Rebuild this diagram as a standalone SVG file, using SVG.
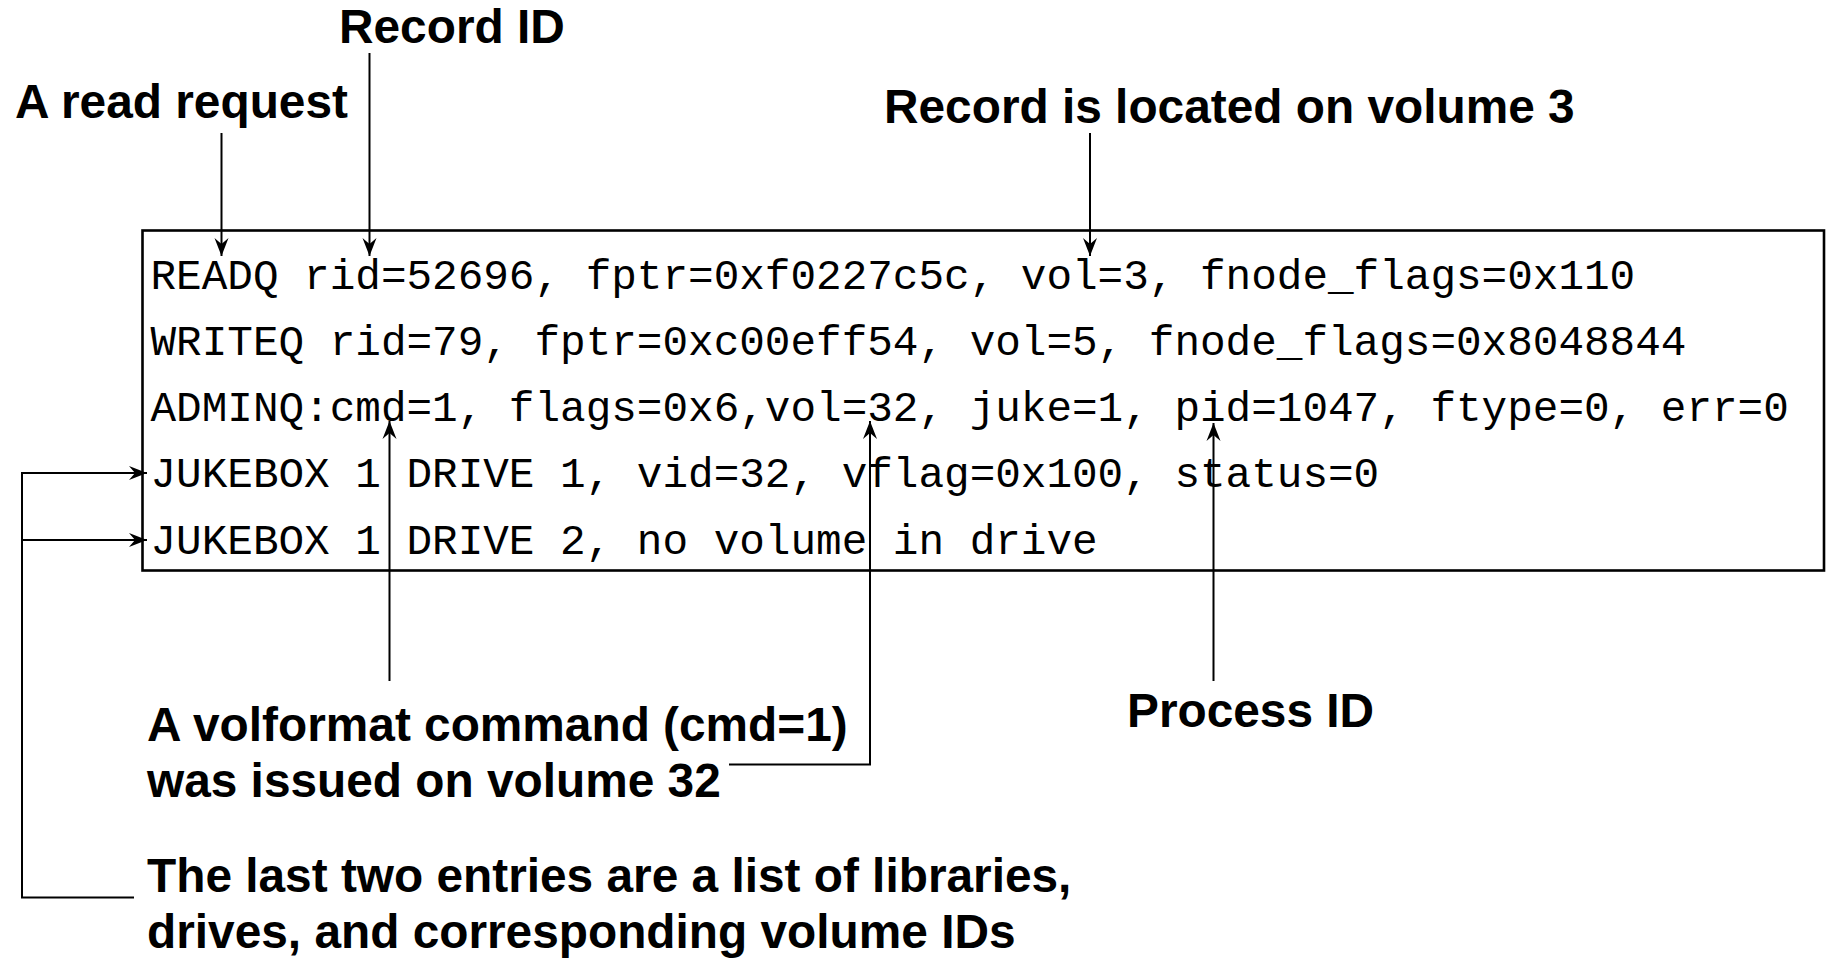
<svg xmlns="http://www.w3.org/2000/svg" width="1828" height="958" viewBox="0 0 1828 958">
  <style>
    .label { font-family: "Liberation Sans", Arial, sans-serif; font-weight: bold; font-size: 47.8px; fill: #000; }
    .log { font-family: "Liberation Mono", "Courier New", monospace; font-size: 42.67px; fill: #000; }
    .wire { fill: none; stroke: #000; stroke-width: 2; }
    .frame { fill: none; stroke: #000; stroke-width: 2.6; }
  </style>
  <defs>
    <marker id="head" markerUnits="userSpaceOnUse" markerWidth="20" markerHeight="16" refX="0" refY="0" orient="auto" overflow="visible">
      <path d="M0,0 L-18,-7 L-12,0 L-18,7 Z" fill="#000"/>
    </marker>
  </defs>
  <rect width="1828" height="958" fill="#fff"/>

  <!-- log excerpt -->
  <g id="log-box">
    <rect class="frame" x="142.5" y="230.5" width="1681.5" height="340"/>
    <text class="log" x="150.5" y="288.5">READQ rid=52696, fptr=0xf0227c5c, vol=3, fnode_flags=0x110</text>
    <text class="log" x="150.5" y="354.8">WRITEQ rid=79, fptr=0xc00eff54, vol=5, fnode_flags=0x8048844</text>
    <text class="log" x="150.5" y="421.1">ADMINQ:cmd=1, flags=0x6,vol=32, juke=1, pid=1047, ftype=0, err=0</text>
    <text class="log" x="150.5" y="487.4">JUKEBOX 1 DRIVE 1, vid=32, vflag=0x100, status=0</text>
    <text class="log" x="150.5" y="553.7">JUKEBOX 1 DRIVE 2, no volume in drive</text>
  </g>

  <!-- callouts -->
  <g id="read-request">
    <text class="label" x="15" y="118">A read request</text>
  </g>
  <g id="record-id">
    <text class="label" x="339" y="43.3">Record ID</text>
  </g>
  <g id="record-volume">
    <text class="label" x="884" y="123">Record is located on volume 3</text>
  </g>
  <g id="process-id">
    <text class="label" x="1127" y="727">Process ID</text>
  </g>
  <g id="volformat">
    <text class="label" x="147" y="740.7">A volformat command (cmd=1)</text>
    <text class="label" x="147" y="797.3">was issued on volume 32</text>
  </g>
  <g id="library-list">
    <text class="label" x="147" y="891.7">The last two entries are a list of libraries,</text>
    <text class="label" x="147" y="948">drives, and corresponding volume IDs</text>
  </g>

  <!-- leader lines -->
  <g id="connectors">
    <path class="wire" d="M221.5,133 V256" marker-end="url(#head)"/>
    <path class="wire" d="M369.5,53 V256" marker-end="url(#head)"/>
    <path class="wire" d="M1090,133 V256" marker-end="url(#head)"/>
    <path class="wire" d="M389.5,681 V421" marker-end="url(#head)"/>
    <path class="wire" d="M729,764.5 H870 V421" marker-end="url(#head)"/>
    <path class="wire" d="M1213.5,681 V423" marker-end="url(#head)"/>
    <path class="wire" d="M134,897.5 H22 V473 H147" marker-end="url(#head)"/>
    <path class="wire" d="M22,540 H147" marker-end="url(#head)"/>
  </g>
</svg>
